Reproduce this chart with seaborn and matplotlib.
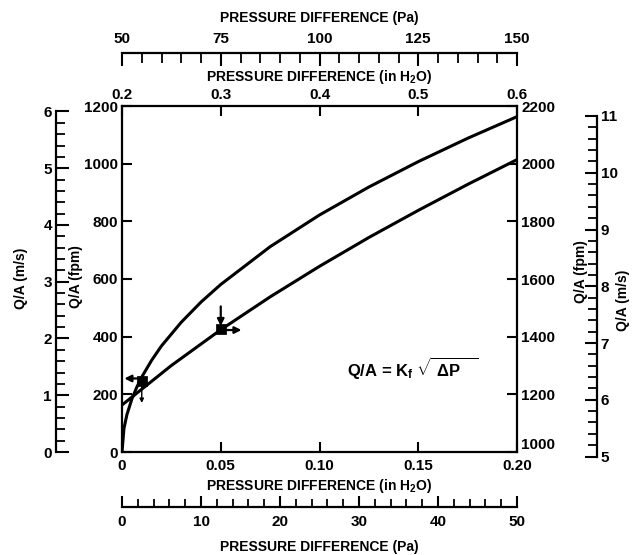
import numpy as np
import matplotlib
matplotlib.use("Agg")
import matplotlib.pyplot as plt
from matplotlib.ticker import MultipleLocator, FixedLocator
import seaborn as sns

# curve read on bottom (in H2O) / left (fpm) scales
bottom_inh2o = [0, 0.001, 0.0025, 0.005, 0.0075, 0.01, 0.015, 0.02, 0.03, 0.04,
                0.05, 0.075, 0.10, 0.125, 0.15, 0.175, 0.20]
curve_a_fpm = [0, 82, 130, 184, 225, 260, 318, 368, 450, 520,
               581, 712, 822, 919, 1007, 1088, 1163]

# curve read on top (in H2O) / right (fpm) scales
top_inh2o = [0.20, 0.25, 0.30, 0.35, 0.40, 0.45, 0.50, 0.55, 0.60]
curve_b_fpm = [1163, 1300, 1424, 1538, 1644, 1744, 1838, 1928, 2014]

# marked example points (bottom/left frame)
mark_x = [0.010, 0.050]
mark_y = [245, 425]

bottom_ticks = [0, 0.05, 0.10, 0.15, 0.20]
bottom_labels = ["0", "0.05", "0.10", "0.15", "0.20"]
top_ticks = [0.2, 0.3, 0.4, 0.5, 0.6]
top_labels = ["0.2", "0.3", "0.4", "0.5", "0.6"]
left_fpm_ticks = [0, 200, 400, 600, 800, 1000, 1200]
right_fpm_ticks = [1000, 1200, 1400, 1600, 1800, 2000, 2200]
FPM_PER_MS = 196.85

sns.set_style("ticks")
plt.rcParams["font.family"] = ["Liberation Sans", "DejaVu Sans"]
plt.rcParams["font.weight"] = "bold"
plt.rcParams["axes.labelweight"] = "bold"
plt.rcParams["mathtext.fontset"] = "custom"
plt.rcParams["mathtext.rm"] = "Liberation Sans:bold"
plt.rcParams["mathtext.it"] = "Liberation Sans:bold"
plt.rcParams["mathtext.bf"] = "Liberation Sans:bold"
plt.rcParams["axes.linewidth"] = 1.5
for k in ["text.color", "axes.labelcolor", "xtick.color", "ytick.color",
          "axes.edgecolor"]:
    plt.rcParams[k] = "black"

W, H = 637, 555
fig = plt.figure(figsize=(W / 100, H / 100), dpi=100)
FS = 10      # axis titles
TS = 11      # tick labels


def rect(x0, y0, x1, y1):
    return [x0 / W, 1 - y1 / H, (x1 - x0) / W, (y1 - y0) / H]


def fxy(x, y):
    return x / W, 1 - y / H


L, R, T, B = 122, 517, 106, 452


def fpm_at(y, base):
    # fpm value of a pixel row for a frame whose bottom is `base` fpm
    return base + (B - y) / (B - T) * 1200


# main frame: bottom / left
ax = fig.add_axes(rect(L, T, R, B))
sns.lineplot(x=bottom_inh2o, y=curve_a_fpm, ax=ax, color="black", lw=2.2)
ax.set_xlim(0, 0.2)
ax.set_ylim(0, 1200)
ax.set_xticks(bottom_ticks, bottom_labels)
ax.set_yticks(left_fpm_ticks, [str(v) for v in left_fpm_ticks])
ax.tick_params(direction="in", length=7, width=1.5, labelsize=TS, pad=3,
               top=False, right=False)
ax.tick_params(axis="x", pad=5)
for s in ax.spines.values():
    s.set_linewidth(1.6)
ax.set_xlabel("PRESSURE DIFFERENCE (in H$_2$O)", fontsize=FS)
ax.xaxis.set_label_coords(*fxy((L + R) / 2, 486), transform=fig.transFigure)
ax.xaxis.label.set_va("center")
ax.set_ylabel("Q/A (fpm)", fontsize=FS)
ax.yaxis.set_label_coords(*fxy(76, 277), transform=fig.transFigure)
ax.yaxis.label.set_va("center")

# example points and arrows
sns.scatterplot(x=mark_x, y=mark_y, ax=ax, marker="s", s=45, color="black",
                edgecolor="black", zorder=5)
arw = dict(arrowstyle="-|>", color="black", lw=1.6, mutation_scale=10,
           shrinkA=0, shrinkB=0)
ax.annotate("", xy=(0.0012, mark_y[0] + 10), xytext=(mark_x[0], mark_y[0] + 10),
            arrowprops=arw)
ax.annotate("", xy=(mark_x[0], mark_y[0] - 75), xytext=(mark_x[0], mark_y[0]),
            arrowprops=dict(arw, lw=1.0, mutation_scale=6))
ax.annotate("", xy=(mark_x[1], mark_y[1] + 12), xytext=(mark_x[1], mark_y[1] + 80),
            arrowprops=arw)
ax.annotate("", xy=(mark_x[1] + 0.0105, mark_y[1] - 2), xytext=(mark_x[1], mark_y[1] - 2),
            arrowprops=arw)

ax.text(0.114, 290, r"Q/A = K$_\mathrm{f}$ $\sqrt{\;\Delta\mathrm{P}\quad}$",
        fontsize=12, va="center", ha="left")

# second frame: top / right
axB = fig.add_axes(rect(L, T, R, B), frameon=False)
axB.patch.set_visible(False)
sns.lineplot(x=top_inh2o, y=curve_b_fpm, ax=axB, color="black", lw=2.2)
axB.set_xlim(0.2, 0.6)
axB.set_ylim(1000, 2200)
axB.xaxis.tick_top()
axB.yaxis.tick_right()
axB.set_xticks(top_ticks, top_labels)
axB.set_yticks(right_fpm_ticks, [str(v) for v in right_fpm_ticks])
axB.tick_params(direction="in", length=7, width=1.5, labelsize=TS, pad=3)
axB.xaxis.set_label_position("top")
axB.set_xlabel("PRESSURE DIFFERENCE (in H$_2$O)", fontsize=FS)
axB.xaxis.set_label_coords(*fxy((L + R) / 2, 77), transform=fig.transFigure)
axB.xaxis.label.set_va("center")
axB.yaxis.set_label_position("right")
axB.set_ylabel("Q/A (fpm)", fontsize=FS)
axB.yaxis.set_label_coords(*fxy(581, 272), transform=fig.transFigure)
axB.yaxis.label.set_va("center")
# lowest right label sits a touch higher so it clears "0.20"
axB.get_yticklabels()[0].set_va("bottom")

# Pa scale on top
axPt = fig.add_axes(rect(L, 53, R, 53.5))
axPt.patch.set_visible(False)
for k in ["left", "right", "bottom"]:
    axPt.spines[k].set_visible(False)
axPt.spines["top"].set_linewidth(1.6)
axPt.set_xlim(50, 150)
axPt.set_yticks([])
axPt.xaxis.tick_top()
axPt.xaxis.set_major_locator(MultipleLocator(25))
axPt.xaxis.set_minor_locator(MultipleLocator(5))
axPt.tick_params(axis="x", which="major", direction="in", length=9, width=1.5,
                 labelsize=TS, pad=5)
axPt.tick_params(axis="x", which="minor", direction="in", length=7, width=1.3)
axPt.xaxis.set_label_position("top")
axPt.set_xlabel("PRESSURE DIFFERENCE (Pa)", fontsize=FS)
axPt.xaxis.set_label_coords(*fxy((L + R) / 2, 18), transform=fig.transFigure)
axPt.xaxis.label.set_va("center")

# Pa scale on bottom
axPb = fig.add_axes(rect(L, 506.5, R, 507))
axPb.patch.set_visible(False)
for k in ["left", "right", "top"]:
    axPb.spines[k].set_visible(False)
axPb.spines["bottom"].set_linewidth(1.6)
axPb.set_xlim(0, 50)
axPb.set_yticks([])
axPb.xaxis.set_major_locator(MultipleLocator(10))
axPb.xaxis.set_minor_locator(MultipleLocator(2))
axPb.tick_params(axis="x", which="major", direction="in", length=8, width=1.5,
                 labelsize=TS, pad=6)
axPb.tick_params(axis="x", which="minor", direction="in", length=5.5, width=1.3)
axPb.set_xlabel("PRESSURE DIFFERENCE (Pa)", fontsize=FS)
axPb.xaxis.set_label_coords(*fxy((L + R) / 2, 547), transform=fig.transFigure)
axPb.xaxis.label.set_va("center")

# m/s scale on left
axL = fig.add_axes(rect(56, T, 56.5, B))
axL.patch.set_visible(False)
for k in ["right", "bottom", "top"]:
    axL.spines[k].set_visible(False)
axL.spines["left"].set_linewidth(1.6)
axL.set_ylim(0, 1200 / FPM_PER_MS)
axL.spines["left"].set_bounds(0, 6)
axL.set_xticks([])
axL.yaxis.set_major_locator(FixedLocator(range(0, 7)))
axL.yaxis.set_minor_locator(MultipleLocator(0.2))
axL.tick_params(axis="y", which="major", direction="in", length=9, width=1.5,
                labelsize=TS, pad=3)
axL.tick_params(axis="y", which="minor", direction="in", length=6.5, width=1.3)
axL.set_ylabel("Q/A (m/s)", fontsize=FS)
axL.yaxis.set_label_coords(*fxy(21, 278), transform=fig.transFigure)
axL.yaxis.label.set_va("center")

# m/s scale on right (frame extended a little below the main box)
rT, rB = T, B + 10
axR = fig.add_axes(rect(596, rT, 596.5, rB))
axR.patch.set_visible(False)
for k in ["left", "bottom", "top"]:
    axR.spines[k].set_visible(False)
axR.spines["right"].set_linewidth(1.6)
axR.set_ylim(fpm_at(rB, 1000) / FPM_PER_MS, fpm_at(rT, 1000) / FPM_PER_MS)
axR.spines["right"].set_bounds(5, 11)
axR.set_xticks([])
axR.yaxis.tick_right()
axR.yaxis.set_major_locator(FixedLocator(range(5, 12)))
axR.yaxis.set_minor_locator(MultipleLocator(0.2))
axR.tick_params(axis="y", which="major", direction="in", length=9, width=1.5,
                labelsize=TS, pad=3)
axR.tick_params(axis="y", which="minor", direction="in", length=6.5, width=1.3)
axR.yaxis.set_label_position("right")
axR.set_ylabel("Q/A (m/s)", fontsize=FS)
axR.yaxis.set_label_coords(*fxy(623, 300), transform=fig.transFigure)
axR.yaxis.label.set_va("center")

fig.savefig("out.png", dpi=100, facecolor="white")
